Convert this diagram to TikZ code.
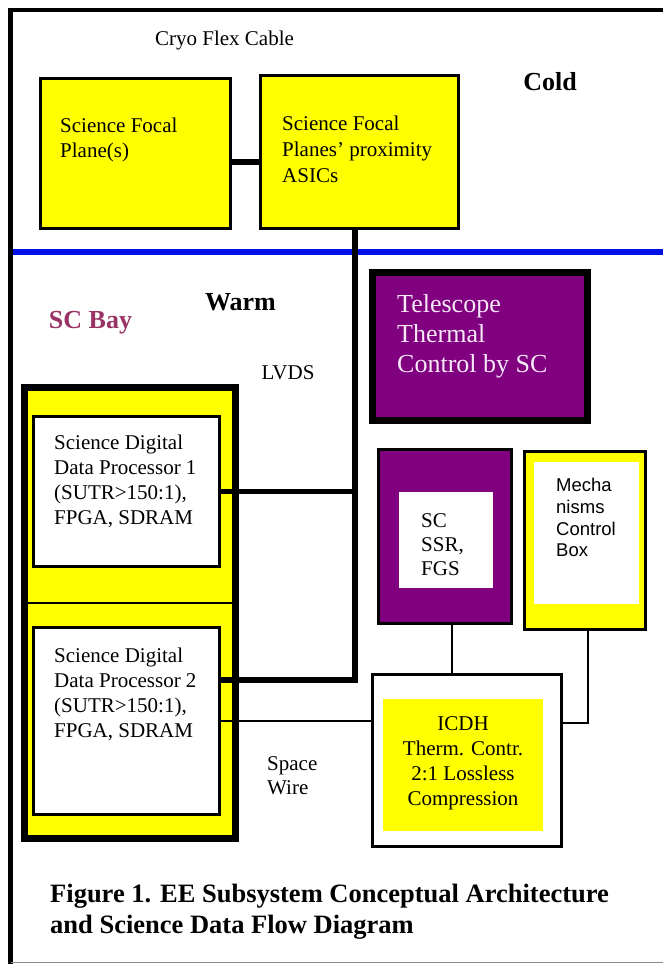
\documentclass[tikz,border=0pt]{standalone}
\usepackage{fontspec}
\setmainfont{Liberation Serif}
\newfontfamily\boxsansfont{Liberation Sans}
\definecolor{colyellow}{HTML}{FFFF00}
\definecolor{colpurple}{HTML}{800080}
\definecolor{colblue}{HTML}{0010E6}
\definecolor{colbay}{HTML}{993366}
\definecolor{colpale}{HTML}{F6E8F6}
\tikzset{
    ee box/.style={rectangle, inner sep=0pt, outer sep=0pt,
        draw=black, line width=3.3pt},
    yellow box/.style={ee box, fill=colyellow},
    purple box/.style={ee box, fill=colpurple},
    white box/.style={ee box, fill=white},
    plain fill/.style={rectangle, inner sep=0pt, outer sep=0pt},
    box text/.style={inner sep=0pt, anchor=north west, align=left,
        font=\fontsize{21}{25}\selectfont},
    zone label/.style={inner sep=0pt, font=\bfseries\fontsize{26}{30}\selectfont},
    bus edge/.style={line width=5.5pt},
    wire edge/.style={line width=1.6pt},
}

\begin{document}
\begin{tikzpicture}[x=1pt, y=-1pt]

\useasboundingbox (0,0) rectangle (663,966);

% ===== FRAME / COLD-WARM BOUNDARY =====
\draw[line width=4.5pt] (663,10) -- (10.5,10) -- (10.5,964);
\draw[line width=1.5pt, draw=black!45] (10.5,962.5) -- (663,962.5);
\draw[line width=6pt, draw=colblue] (13,252) -- (663,252);

% ===== COLD SIDE =====
\node[box text, anchor=center] (cryo) at (224.5,40) {Cryo Flex Cable};
\node[zone label] (cold) at (550,82) {Cold};
\node[yellow box, minimum width=190pt, minimum height=150pt] (fp) at (135.5,153.5) {};
\node[box text] (fp text) at (60,118) {Science Focal\\Plane(s)};
\node[yellow box, minimum width=197.5pt, minimum height=152.5pt] (asic) at (359.5,152) {};
\node[box text, font=\fontsize{21}{26}\selectfont] (asic text) at (282,116) {Science Focal\\Planes' proximity\\ASICs};

% ===== WARM SIDE: LABELS =====
\node[zone label] (warm) at (240.5,302) {Warm};
\node[zone label, text=colbay] (bay) at (90.5,323) {SC Bay};
\node[box text, anchor=center] (lvds) at (288,373) {LVDS};
\node[box text, font=\fontsize{21}{24}\selectfont] (spw) at (267,756) {Space\\Wire};

% ===== SCIENCE DIGITAL DATA PROCESSORS =====
\node[yellow box, line width=7pt, minimum width=211pt, minimum height=451pt] (dpu) at (130,613) {};
\coordinate (bay split) at (130,603);
\draw[line width=1.5pt] (bay split -| dpu.west) -- (bay split -| dpu.east);
\node[white box, minimum width=186pt, minimum height=150pt] (sddp1) at (126.5,491.5) {};
\node[box text] (sddp1 text) at (54,435) {Science Digital\\Data Processor 1\\(SUTR>150:1),\\FPGA, SDRAM};
\node[white box, minimum width=186pt, minimum height=187pt] (sddp2) at (126.5,721) {};
\node[box text] (sddp2 text) at (54,648) {Science Digital\\Data Processor 2\\(SUTR>150:1),\\FPGA, SDRAM};

% ===== SPACECRAFT UNITS =====
\node[purple box, line width=7pt, minimum width=215pt, minimum height=148pt] (ttc) at (480,346.5) {};
\node[box text, text=colpale, font=\fontsize{26}{30}\selectfont] (ttc text) at (397,294) {Telescope\\Thermal\\Control by SC};
\node[purple box, minimum width=132.5pt, minimum height=173.5pt] (ssr) at (445,536.5) {};
\node[plain fill, fill=white, minimum width=94pt, minimum height=96pt] (ssr inner) at (446,540) {};
\node[box text, font=\fontsize{21}{24}\selectfont] (ssr text) at (421,513) {SC\\SSR,\\FGS};
\node[yellow box, minimum width=121pt, minimum height=178pt] (mech) at (585,540.5) {};
\node[plain fill, fill=white, minimum width=105pt, minimum height=142pt] (mech inner) at (586.5,533) {};
\node[box text, font=\boxsansfont\fontsize{18.5}{21.7}\selectfont] (mech text) at (556,478) {Mecha\\nisms\\Control\\Box};
\node[white box, minimum width=188.5pt, minimum height=171.5pt] (icdh) at (467,760.5) {};
\node[plain fill, fill=colyellow, minimum width=160pt, minimum height=132pt] (icdh inner) at (463,765) {};
\node[box text, anchor=north, align=center] (icdh text) at (463,716) {ICDH\\Therm. Contr.\\2:1 Lossless\\Compression};

% ===== CAPTION =====
\node[box text, font=\bfseries\fontsize{26.5}{31}\selectfont] (caption) at (50,884)
    {Figure 1. EE Subsystem Conceptual Architecture\\and Science Data Flow Diagram};

% ===== CONNECTIONS =====
\coordinate (lvds bend) at (355,680);
\draw[bus edge] ([yshift=-8.5pt]fp.east) -- ([yshift=-8.5pt]fp.east -| asic.west);
\draw[bus edge] ([xshift=-4.5pt]asic.south) -- (lvds bend) -- (lvds bend -| sddp2.east);
\draw[bus edge] (sddp1.east) -- (sddp1.east -| lvds bend);
\draw[wire edge] (sddp2.east) -- (sddp2.east -| icdh.west);
\draw[wire edge] ([xshift=7pt]ssr.south) -- ([xshift=7pt]ssr.south |- icdh.north);
\draw[wire edge] ([xshift=3pt]mech.south) |- ([yshift=37.5pt]icdh.east);

\end{tikzpicture}
\end{document}
